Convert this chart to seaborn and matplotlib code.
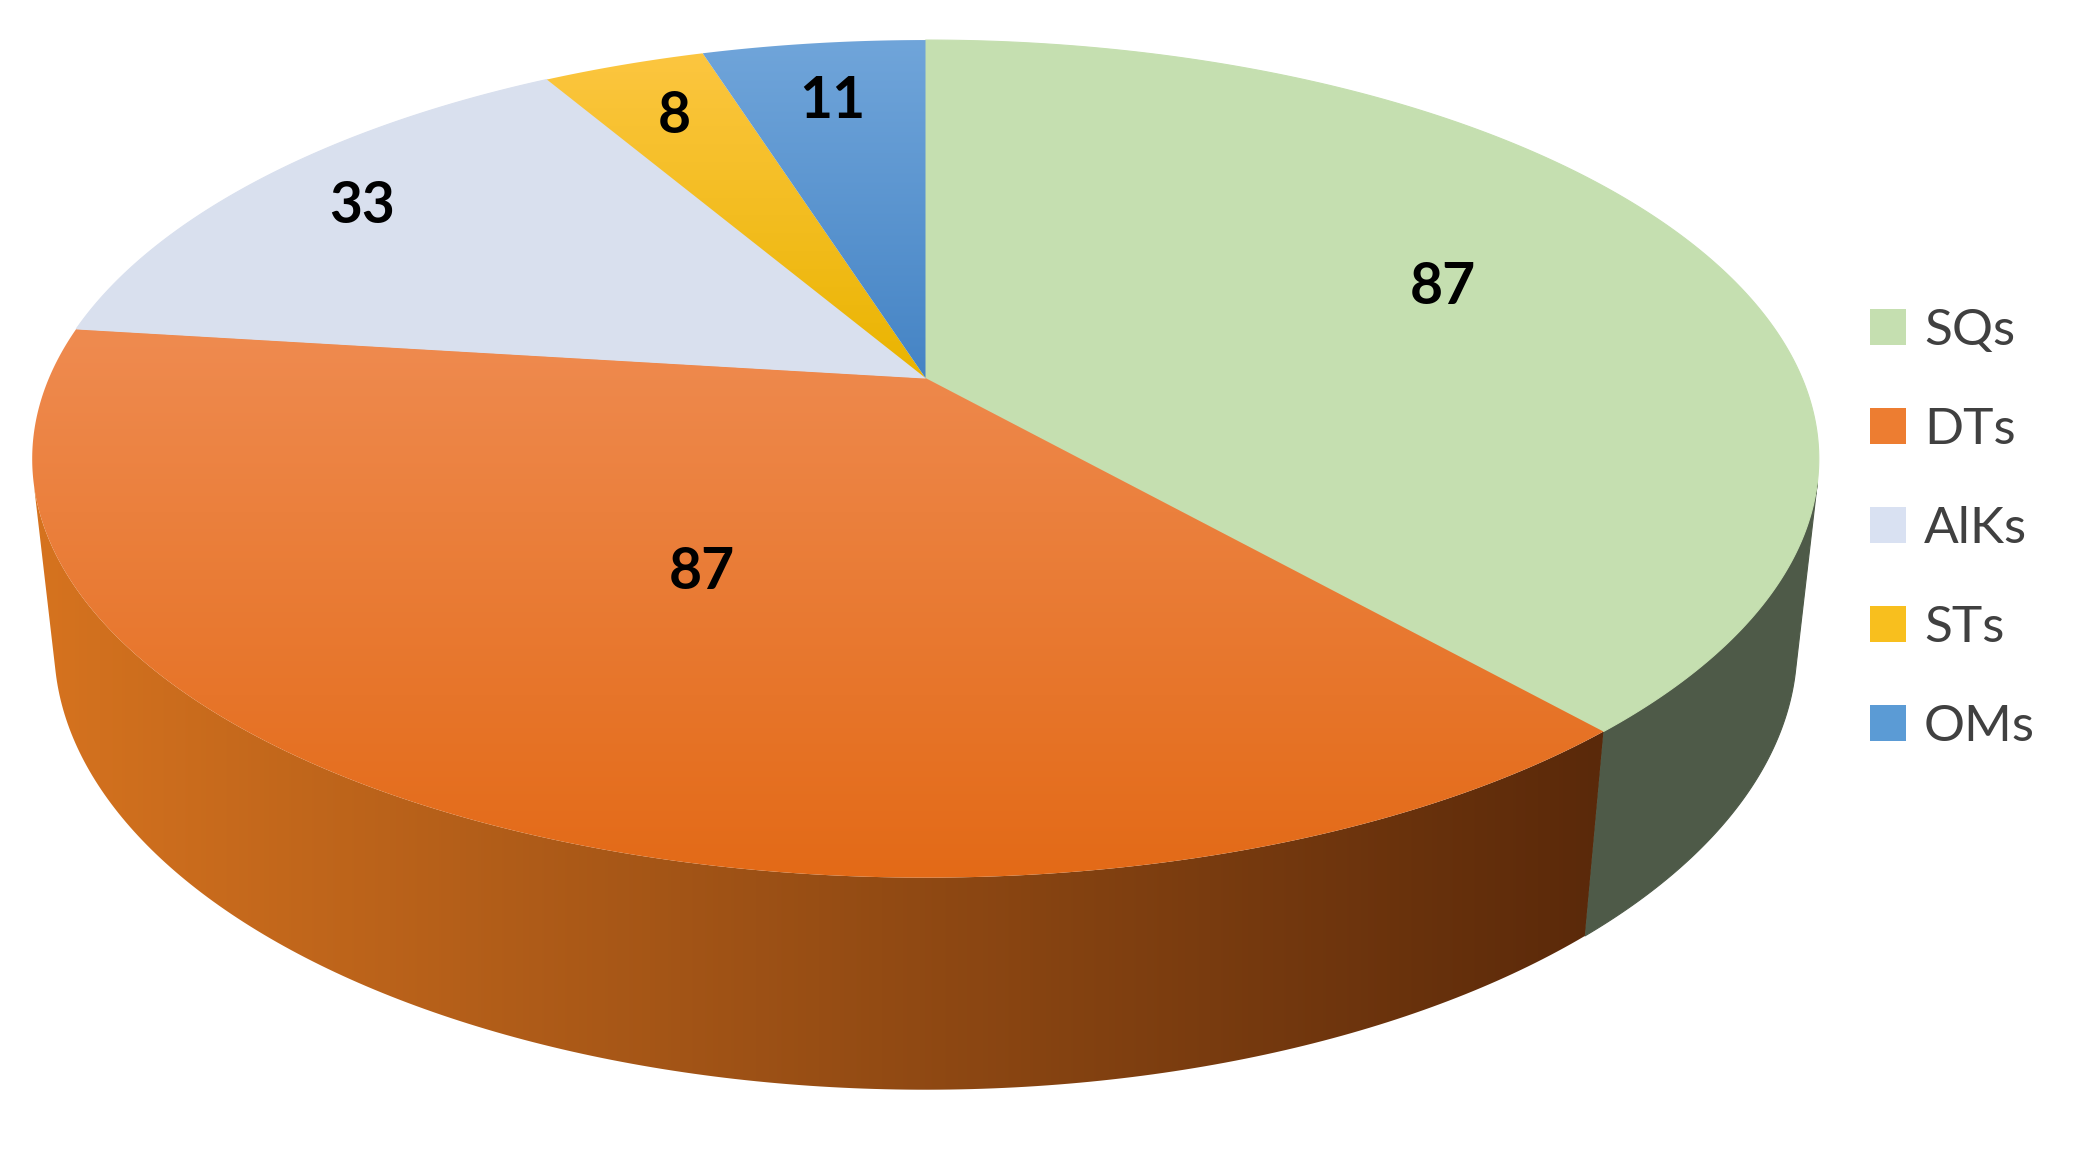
import numpy as np
import matplotlib
matplotlib.use('Agg')
import matplotlib.pyplot as plt
from matplotlib.patches import Polygon, Patch
from matplotlib.colors import to_rgb
import seaborn as sns

# Data
labels = ['SQs', 'DTs', 'AlKs', 'STs', 'OMs']
values = [87, 87, 33, 8, 11]

# Colours (gradient start, gradient end)
top_colors = [('#C5DFB0', '#C5DFB0'), ('#EF8B50', '#E36A17'), ('#D9E0EE', '#D9E0EE'),
              ('#FCC640', '#EAB400'), ('#70A5DA', '#4584C5')]
side_colors = [('#4E5A48', '#4E5A48'), ('#D6731F', '#5A290A'), ('#9AA0AA', '#9AA0AA'),
               ('#B08A10', '#B08A10'), ('#3A6A9A', '#3A6A9A')]
legend_colors = ['#C5DFB0', '#ED7D31', '#D9E1F2', '#F8BF1E', '#5B9BD5']
label_radius = [0.66, 0.50, 0.84, 0.81, 0.80]

# Camera / layout (pixels of the output picture)
W, H = 2079, 1151
CX, CY = 925.5, 378.0
D0 = 4.6
SIN_P, COS_P = 0.46, 0.888
F = 876.5 * D0
THICK = 0.242


def project(u, z, y=0.0):
    depth = D0 - y * SIN_P - z * COS_P
    X = CX + F * u / depth
    Y = CY - F * (y * COS_P - z * SIN_P) / depth
    return X, Y


def rim(theta, r=1.0, y=0.0):
    u = r * np.sin(theta)
    z = -r * np.cos(theta)
    return project(u, z, y)


def gradient_fill(ax, xs, ys, c0, c1, vertical=True, zorder=1):
    pts = np.column_stack([xs, ys])
    if c0 == c1:
        ax.add_patch(Polygon(pts, closed=True, facecolor=c0, edgecolor=c0,
                             linewidth=0.8, zorder=zorder))
        return
    patch = Polygon(pts, closed=True, facecolor='none', edgecolor='none', zorder=zorder)
    ax.add_patch(patch)
    t = np.linspace(0, 1, 256)
    a, b = np.array(to_rgb(c0)), np.array(to_rgb(c1))
    grad = a[None, :] * (1 - t[:, None]) + b[None, :] * t[:, None]
    if vertical:
        img = grad[:, None, :]
    else:
        img = grad[None, :, :]
    im = ax.imshow(img, extent=(xs.min(), xs.max(), ys.max(), ys.min()),
                   origin='upper', aspect='auto', interpolation='bilinear', zorder=zorder)
    im.set_clip_path(patch)


sns.set_theme(style='white')
plt.rcParams['font.family'] = ['Lato', 'DejaVu Sans']

fig = plt.figure(figsize=(W / 100, H / 100), dpi=100)
ax = fig.add_axes([0, 0, 1, 1])
ax.set_axis_off()

total = sum(values)
edges = np.concatenate([[0], np.cumsum(values)]) / total * 2 * np.pi

# visible part of the side wall: rim points that face the camera
z_vis = 1.0 / (D0 * COS_P)
vis_lo = np.arccos(-z_vis)
vis_hi = 2 * np.pi - vis_lo

# side walls
for i in range(len(values)):
    a0, a1 = max(edges[i], vis_lo), min(edges[i + 1], vis_hi)
    if a1 <= a0:
        continue
    th = np.linspace(a0, a1, 200)
    xt, yt = rim(th)
    xb, yb = rim(th, y=-THICK)
    xs = np.concatenate([xt, xb[::-1]])
    ys = np.concatenate([yt, yb[::-1]])
    gradient_fill(ax, xs, ys, side_colors[i][0], side_colors[i][1], vertical=False, zorder=1)

# top faces
for i in range(len(values)):
    th = np.linspace(edges[i], edges[i + 1], 300)
    xt, yt = rim(th)
    xs = np.concatenate([[CX], xt])
    ys = np.concatenate([[CY], yt])
    gradient_fill(ax, xs, ys, top_colors[i][0], top_colors[i][1], vertical=True, zorder=2)

# value labels
for i, v in enumerate(values):
    mid = (edges[i] + edges[i + 1]) / 2
    lx, ly = rim(mid, r=label_radius[i])
    ax.text(lx, ly, str(v), ha='center', va='center', fontsize=41,
            fontweight='bold', color='black', zorder=5)

handles = [Patch(facecolor=c, edgecolor='none') for c in legend_colors]
ax.legend(handles, labels, loc='upper left', bbox_to_anchor=(1870 / W, 1 - 308 / H),
          frameon=False, fontsize=37, labelcolor='#404040', handlelength=0.7,
          handleheight=0.7, handletextpad=0.35, labelspacing=1.03,
          borderpad=0, borderaxespad=0)

ax.set_xlim(0, W)
ax.set_ylim(H, 0)
fig.savefig('out.png', dpi=100, facecolor='white')
